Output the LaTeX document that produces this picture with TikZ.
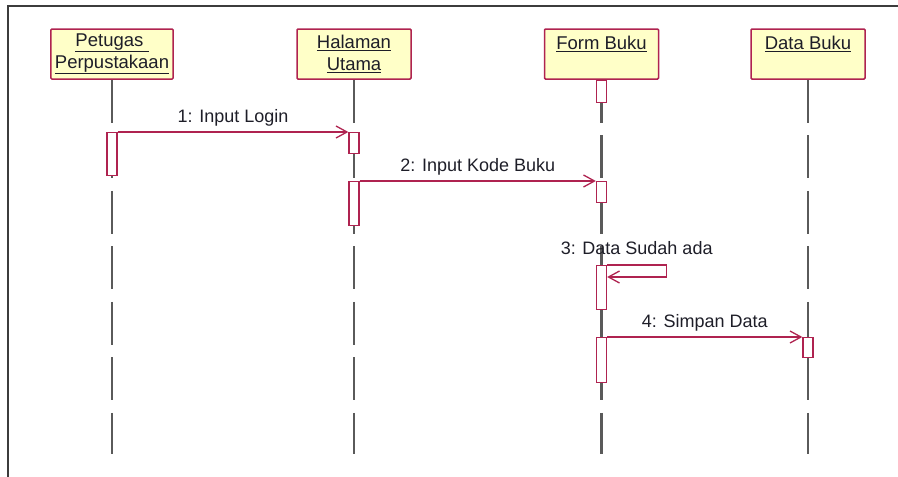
\documentclass[tikz,border=0pt]{standalone}
\usepackage{fontspec}
\setmainfont{Liberation Sans}
\usetikzlibrary{arrows.meta,positioning}
\definecolor{umlred}{RGB}{175,35,80}
\definecolor{boxfill}{RGB}{255,255,200}
\definecolor{linegray}{RGB}{90,90,90}
\definecolor{framegray}{RGB}{60,60,60}
\definecolor{txt}{RGB}{30,30,40}

\begin{document}
\begin{tikzpicture}[x=1pt,y=-1pt,
  actor/.style={draw=umlred,fill=boxfill,line width=1.5pt,rounded corners=1pt,
    minimum width=114pt,minimum height=50pt,align=center,inner sep=4pt,
    text=txt,font=\fontsize{18.5}{22}\selectfont},
  bar/.style={draw=umlred,fill=white,line width=1.3pt,minimum width=10pt,inner sep=0pt,anchor=north},
  msg/.style={draw=umlred,line width=1.3pt,-{Straight Barb[length=11pt,width=12pt]}},
  lifeline/.style={draw=linegray,line width=2.5pt,dash pattern=on 43pt off 12.5pt},
  lbl/.style={text=txt,font=\fontsize{18}{20}\selectfont,text height=13pt,text depth=4pt,inner sep=0pt}]
\useasboundingbox (0,0) rectangle (898,477);
% Frame
\draw[line width=2.5pt,framegray] (8,477) -- (8,6) -- (898,6);
% Objects
\node[actor] (petugas) at (112,54) {\underline{Petugas\ }\\\underline{Perpustakaan}};
\node[actor] (halaman) at (354,54) {\underline{Halaman}\\\underline{Utama}};
\node[actor] (form) at (601.5,54) {\underline{Form Buku}\\\mbox{}};
\node[actor] (data) at (808,54) {\underline{Data Buku}\\\mbox{}};
% Lifelines
\foreach \obj in {petugas,halaman,form,data}
  \draw[lifeline] (\obj.south) -- (\obj.south |- 0,454);
% Activations
\node[bar,minimum height=43pt] (p1) at (petugas.south |- 0,132) {};
\node[bar,minimum height=21pt] (h1) at (halaman.south |- 0,132) {};
\node[bar,minimum height=44pt] (h2) at (halaman.south |- 0,181) {};
\node[bar,minimum height=22pt] (f0) at (form.south |- 0,80) {};
\node[bar,minimum height=21pt] (f1) at (form.south |- 0,181) {};
\node[bar,minimum height=44pt] (f2) at (form.south |- 0,265) {};
\node[bar,minimum height=45pt] (f3) at (form.south |- 0,337) {};
\node[bar,minimum height=20pt] (d1) at (data.south |- 0,337) {};
% Messages
\draw[msg] (p1.north east) -- node[lbl,above=5pt] {1: Input Login} (h1.north west);
\draw[msg] (h2.north east) -- node[lbl,above=5pt] {2: Input Kode Buku} (f1.north west);
\draw[msg] (f2.north east) -- node[lbl,above=6pt] {3: Data Sudah ada} ++(59,0)
  |- ([yshift=-12pt]f2.north east);
\draw[msg] (f3.north east) -- node[lbl,above=5pt] {4: Simpan Data} (d1.north west);
\end{tikzpicture}
\end{document}
